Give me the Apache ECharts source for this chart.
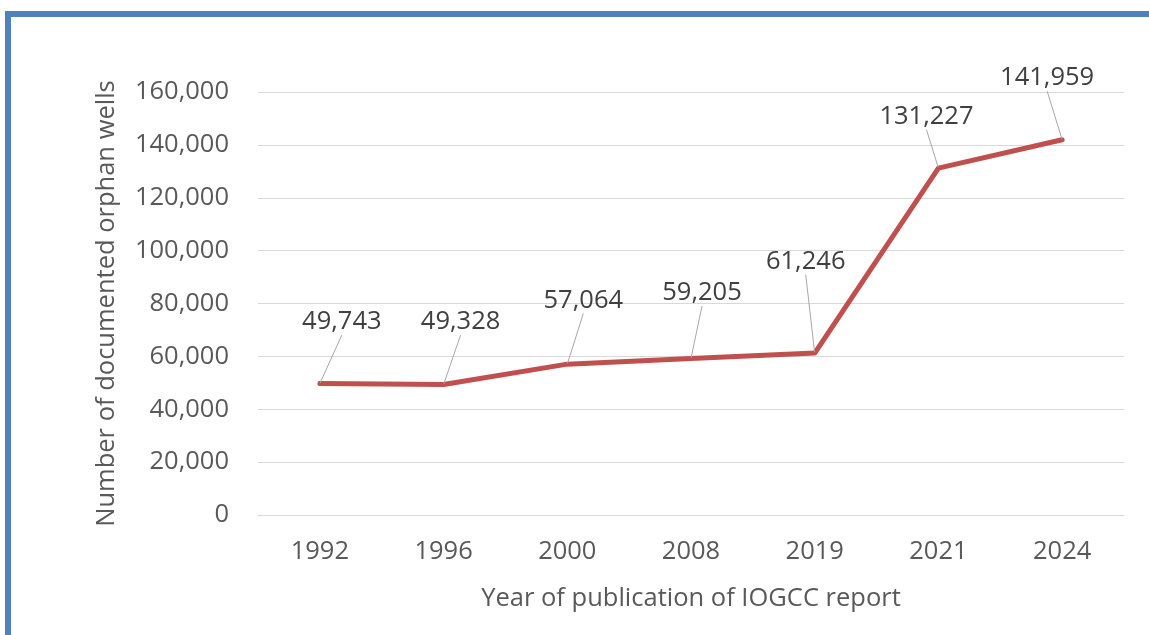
<!DOCTYPE html>
<html>
<head>
<meta charset="utf-8">
<script src="https://cdn.jsdelivr.net/npm/echarts@6/dist/echarts.min.js"></script>
<style>
html,body{margin:0;padding:0;background:#fff;width:1149px;height:635px;overflow:hidden;}
#chart{position:absolute;left:0;top:0;width:1149px;height:635px;}
#frame{position:absolute;left:5px;top:11px;width:1200px;height:700px;border-left:6px solid #4f81bd;border-top:6px solid #4f81bd;pointer-events:none;}
</style>
</head>
<body>
<div id="chart"></div>
<div id="frame"></div>
<script>
var categories = ['1992', '1996', '2000', '2008', '2019', '2021', '2024'];
var wells = [49743, 49328, 57064, 59205, 61246, 131227, 141959];
var labelDx = [22, 17, 16, 11, -9, -12, -15];
var labelDy = [-43, -44, -45, -47, -73, -33, -43];

var FONT = 'Open Sans';
var FS = 25.5;
var chart = echarts.init(document.getElementById('chart'));
function fmt(v){ return v.toLocaleString('en-US'); }
chart.setOption({
  animation: false,
  grid: {left: 258, right: 25, top: 92, bottom: 120, containLabel: false},
  xAxis: {
    type: 'category',
    data: categories,
    boundaryGap: true,
    name: 'Year of publication of IOGCC report',
    nameLocation: 'middle',
    nameGap: 71,
    nameTextStyle: {fontFamily: FONT, fontSize: FS, color: '#595959'},
    axisLine: {show: true, lineStyle: {color: '#d9d9d9', width: 1}},
    axisTick: {show: false},
    axisLabel: {fontFamily: FONT, fontSize: FS, color: '#595959', margin: 24}
  },
  yAxis: {
    type: 'value',
    min: 0, max: 160000, interval: 20000,
    name: 'Number of documented orphan wells',
    nameLocation: 'middle',
    nameGap: 138,
    nameRotate: 90,
    nameTextStyle: {fontFamily: FONT, fontSize: FS, color: '#595959'},
    axisLine: {show: false},
    axisTick: {show: false},
    splitLine: {lineStyle: {color: '#d9d9d9', width: 1}},
    axisLabel: {fontFamily: FONT, fontSize: FS, color: '#595959', margin: 29, formatter: fmt}
  },
  series: [{
    type: 'line',
    data: wells,
    symbol: 'circle',
    symbolSize: 1,
    showSymbol: true,
    itemStyle: {color: '#c0504d'},
    lineStyle: {color: '#c0504d', width: 5, cap: 'round', join: 'round'},
    label: {
      show: true, position: 'top', distance: 5,
      fontFamily: FONT, fontSize: FS, color: '#404040',
      formatter: function(p){ return fmt(p.value); }
    },
    labelLine: {show: true, lineStyle: {color: '#a6a6a6', width: 1}},
    labelLayout: function(p){ return {dx: labelDx[p.dataIndex], dy: labelDy[p.dataIndex]}; }
  }]
});
</script>
</body>
</html>
